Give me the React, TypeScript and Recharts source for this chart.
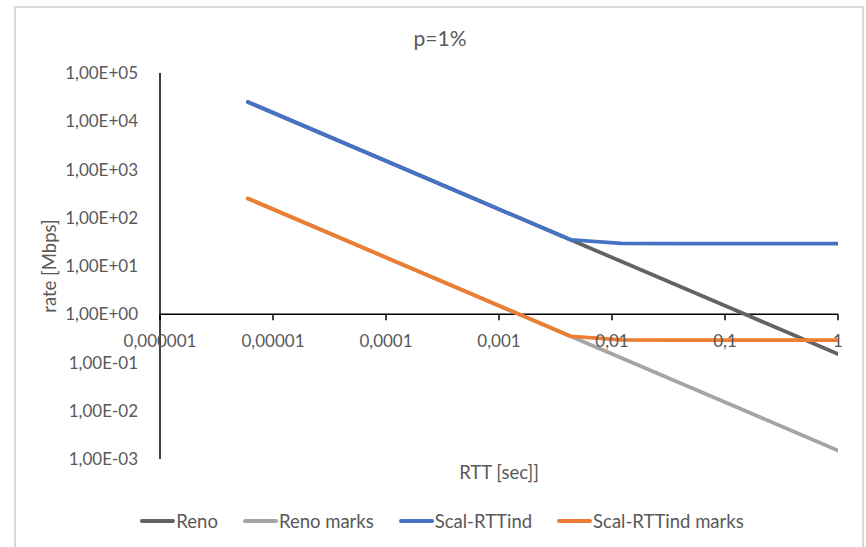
import { LineChart, Line, XAxis, YAxis, ReferenceLine } from 'recharts'

// RTT in seconds
const RTT = [0.000006, 0.00006, 0.0006, 0.0043, 0.012, 0.04, 0.12, 0.4, 1]
// rates in Mbps, p=1%
const reno = [25000, 2500, 250, 35, 12.5, 3.75, 1.25, 0.375, 0.15]
const renoMarks = [250, 25, 2.5, 0.35, 0.125, 0.0375, 0.0125, 0.00375, 0.0015]
const scalRTTind = [25000, 2500, 250, 35, 29.5, 29, 29, 29, 29]
const scalRTTindMarks = [250, 25, 2.5, 0.35, 0.295, 0.29, 0.29, 0.29, 0.29]

const X_TICKS = [0.000001, 0.00001, 0.0001, 0.001, 0.01, 0.1, 1]
const X_LABELS = ['0,000001', '0,00001', '0,0001', '0,001', '0,01', '0,1', '1']
const Y_TICKS = [0.001, 0.01, 0.1, 1, 10, 100, 1000, 10000, 100000]

const SERIES = [
  { key: 'reno', name: 'Reno', color: '#636363' },
  { key: 'renoMarks', name: 'Reno marks', color: '#a5a5a5' },
  { key: 'scal', name: 'Scal-RTTind', color: '#4472c4' },
  { key: 'scalMarks', name: 'Scal-RTTind marks', color: '#ed7d31' },
]

const data = RTT.map((rtt, i) => ({
  rtt,
  reno: reno[i],
  renoMarks: renoMarks[i],
  scal: scalRTTind[i],
  scalMarks: scalRTTindMarks[i],
}))

const TEXT = '#595959'
const FONT = 'Lato, sans-serif'

const PLOT_TOP = 73
const PLOT_H = 386
const Y_MIN = 0.001
const Y_MAX = 100000
// the x axis crosses the y axis at rate = 1
const Y_CROSS = PLOT_TOP + PLOT_H * (Math.log10(Y_MAX) / (Math.log10(Y_MAX) - Math.log10(Y_MIN)))

const fmtY = (v: number) => {
  const e = Math.round(Math.log10(v))
  return `1,00E${e < 0 ? '-' : '+'}${String(Math.abs(e)).padStart(2, '0')}`
}

const XTick = ({ x, payload }: any) => {
  const i = X_TICKS.findIndex(t => Math.abs(t - payload.value) / t < 1e-6)
  return (
    <g>
      <line x1={x} x2={x} y1={Y_CROSS} y2={Y_CROSS + 6} stroke="#000" strokeWidth={1.5} />
      <text x={x} y={Y_CROSS + 33} textAnchor="middle" fill={TEXT} fontSize={17} fontFamily={FONT}>
        {X_LABELS[i]}
      </text>
    </g>
  )
}

export default function App() {
  return (
    <div style={{ position: 'absolute', left: 0, top: 0, width: 866, height: 547, overflow: 'hidden', background: '#fff', fontFamily: FONT }}>
      <div style={{ position: 'absolute', left: 14, top: 6, width: 846, height: 600, border: '2px solid #d9d9d9' }} />
      <div style={{ position: 'absolute', left: 0, width: 880, top: 25, textAlign: 'center', fontSize: 21, color: TEXT }}>p=1%</div>
      <div style={{ position: 'absolute', left: 0, top: 0 }}>
        <LineChart width={866} height={547} data={data} margin={{ top: PLOT_TOP, right: 28, bottom: 58, left: 44 }}>
          <XAxis dataKey="rtt" type="number" scale="log" domain={[0.000001, 1]} ticks={X_TICKS} allowDataOverflow
            axisLine={false} tickLine={false} tick={<XTick />} height={30} interval={0}
            label={{ value: 'RTT [sec]]', position: 'insideBottom', offset: 10, fill: TEXT, fontSize: 18.5, fontFamily: FONT }} />
          <YAxis type="number" scale="log" domain={[Y_MIN, Y_MAX]} ticks={Y_TICKS} allowDataOverflow width={116}
            axisLine={{ stroke: '#000', strokeWidth: 1.5 }} tickLine={false} tickSize={6} tickMargin={16} interval={0}
            tickFormatter={fmtY} tick={{ fill: TEXT, fontSize: 17, fontFamily: FONT }}
            label={{ value: 'rate [Mbps]', angle: -90, position: 'insideLeft', offset: 5, fill: TEXT, fontSize: 18.5, fontFamily: FONT, style: { textAnchor: 'middle' } }} />
          <ReferenceLine y={1} stroke="#000" strokeWidth={1.5} ifOverflow="extendDomain" />
          {SERIES.map(s => (
            <Line key={s.key} dataKey={s.key} name={s.name} type="linear" stroke={s.color} strokeWidth={3.75}
              dot={false} isAnimationActive={false} strokeLinecap="round" strokeLinejoin="round" />
          ))}
        </LineChart>
      </div>
      <div style={{ position: 'absolute', left: 0, width: 884, top: 510, display: 'flex', justifyContent: 'center', gap: 25, fontSize: 18.5, color: TEXT }}>
        {SERIES.map(s => (
          <div key={s.key} style={{ display: 'flex', alignItems: 'center' }}>
            <span style={{ display: 'inline-block', width: 35, height: 4, background: s.color, borderRadius: 2, marginRight: 1 }} />
            <span>{s.name}</span>
          </div>
        ))}
      </div>
    </div>
  )
}
